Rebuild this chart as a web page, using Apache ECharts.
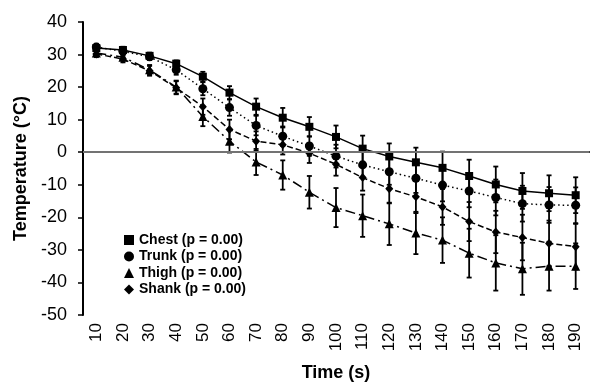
<!DOCTYPE html>
<html>
<head>
<meta charset="utf-8">
<script src="https://cdn.jsdelivr.net/npm/echarts@6/dist/echarts.min.js"></script>
<style>html,body{margin:0;padding:0;background:#fff;}#c{width:596px;height:387px;}</style>
</head>
<body>
<div id="c"></div>
<script>
var categories = ['10','20','30','40','50','60','70','80','90','100','110','120','130','140','150','160','170','180','190'];
var chest = [32, 31.4, 29.6, 27.2, 23.2, 18.3, 14, 10.6, 7.8, 4.7, 1.1, -1.3, -3.1, -4.8, -7.3, -9.9, -11.9, -12.6, -13.2];
var trunk = [32.3, 31, 29.3, 25.3, 19.5, 13.7, 8.2, 4.9, 1.9, -1.2, -3.9, -6, -8, -10.1, -11.9, -13.9, -15.8, -16.2, -16.3];
var thigh = [30.5, 29.2, 25.3, 20, 11, 3.4, -3, -7, -12.3, -17, -19.5, -22, -24.8, -27, -31, -34, -35.8, -35, -35];
var shank = [30.2, 28.6, 25, 19.8, 14, 7, 3.4, 2.3, -0.3, -3.7, -7.8, -11.2, -13.7, -16.8, -21.3, -24.5, -26.2, -28, -29];
var chestSD = [1, 1, 1, 1, 1.5, 2, 2.5, 3, 3, 3.5, 4, 4, 4.5, 5, 5, 5.5, 5.5, 5.5, 5.5];
var trunkSD = [1, 1, 1, 1.5, 2, 2.5, 3, 3, 3, 3.5, 4, 4, 4.5, 5, 5, 5.5, 5.5, 5.5, 5.5];
var thighSD = [1, 1, 1.5, 2, 3, 3.5, 4, 4.5, 5, 6, 6.5, 6.5, 6.5, 7, 7.5, 8.5, 8, 7.5, 7];
var shankSD = [1, 1, 1.5, 2, 2.5, 3, 3, 3, 3, 3.5, 4, 4.5, 5, 5.5, 6, 6.5, 7, 7, 7];
var seriesNames = ['Chest (p = 0.00)', 'Trunk (p = 0.00)', 'Thigh (p = 0.00)', 'Shank (p = 0.00)'];
var yTicks = {min: -50, max: 40, interval: 10};

var FONT = '"Liberation Sans", Arial, Helvetica, sans-serif';

function errData(vals, sds) {
  return vals.map(function (v, i) { return [i, v - sds[i], v + sds[i]]; });
}
function errSeries(vals, sds) {
  return {
    type: 'custom',
    silent: true,
    z: 1,
    data: errData(vals, sds),
    encode: {x: 0, y: [1, 2]},
    renderItem: function (params, api) {
      var x = api.value(0);
      var lo = api.coord([x, api.value(1)]);
      var hi = api.coord([x, api.value(2)]);
      var w = 2.5;
      var st = {stroke: '#000', lineWidth: 1.8};
      return {
        type: 'group',
        children: [
          {type: 'line', shape: {x1: lo[0], y1: lo[1], x2: hi[0], y2: hi[1]}, style: st},
          {type: 'line', shape: {x1: lo[0] - w, y1: lo[1], x2: lo[0] + w, y2: lo[1]}, style: st},
          {type: 'line', shape: {x1: hi[0] - w, y1: hi[1], x2: hi[0] + w, y2: hi[1]}, style: st}
        ]
      };
    }
  };
}
function lineSeries(name, vals, symbol, size, dash) {
  return {
    name: name,
    type: 'line',
    data: vals,
    symbol: symbol,
    symbolSize: size,
    z: 3,
    itemStyle: {color: '#000'},
    lineStyle: {color: '#000', width: 1.5, type: dash},
    emphasis: {disabled: true}
  };
}

var chart = echarts.init(document.getElementById('c'), null, {renderer: 'canvas'});
var series = [
  errSeries(chest, chestSD), errSeries(trunk, trunkSD), errSeries(thigh, thighSD), errSeries(shank, shankSD),
  lineSeries(seriesNames[0], chest, 'rect', 8, 'solid'),
  lineSeries(seriesNames[1], trunk, 'circle', 9, [1.5, 3]),
  lineSeries(seriesNames[2], thigh, 'triangle', 9, [10, 4, 2, 4]),
  lineSeries(seriesNames[3], shank, 'diamond', [8, 9], [6, 3])
];
series[4].markLine = {
  silent: true, symbol: 'none', label: {show: false},
  lineStyle: {color: '#9a9a9a', width: 1.5, type: 'solid'},
  data: [{yAxis: 0}]
};
chart.setOption({
  animation: false,
  backgroundColor: '#fff',
  textStyle: {fontFamily: FONT},
  grid: {left: 83, right: 7, top: 22, bottom: 71, containLabel: false},
  legend: {
    orient: 'vertical',
    left: 119, top: 228,
    itemWidth: 10, itemHeight: 10, itemGap: 2.5,
    selectedMode: false,
    textStyle: {fontFamily: FONT, fontSize: 14, fontWeight: 'bold', color: '#000', lineHeight: 14},
    data: [
      {name: seriesNames[0], icon: 'rect'},
      {name: seriesNames[1], icon: 'circle'},
      {name: seriesNames[2], icon: 'triangle'},
      {name: seriesNames[3], icon: 'diamond'}
    ]
  },
  xAxis: {
    type: 'category',
    data: categories,
    boundaryGap: true,
    name: 'Time (s)',
    nameLocation: 'middle',
    nameGap: 49,
    nameTextStyle: {fontFamily: FONT, fontSize: 18, fontWeight: 'bold', color: '#000'},
    axisLine: {lineStyle: {color: '#000', width: 2}},
    axisTick: {alignWithLabel: true, length: 5, lineStyle: {color: '#000', width: 1.5}},
    axisLabel: {rotate: 90, margin: 8, fontSize: 17, color: '#000', fontFamily: FONT},
    splitLine: {show: false}
  },
  yAxis: {
    type: 'value',
    min: yTicks.min, max: yTicks.max, interval: yTicks.interval,
    name: 'Temperature (\u00B0C)',
    nameLocation: 'middle',
    nameGap: 43,
    nameTextStyle: {fontFamily: FONT, fontSize: 18, fontWeight: 'bold', color: '#000'},
    axisLine: {show: true, lineStyle: {color: '#000', width: 2}},
    axisTick: {show: true, length: 5, lineStyle: {color: '#000', width: 1.5}},
    axisLabel: {margin: 16, fontSize: 18, color: '#000', fontFamily: FONT},
    splitLine: {show: false}
  },
  series: series
});
</script>
</body>
</html>
